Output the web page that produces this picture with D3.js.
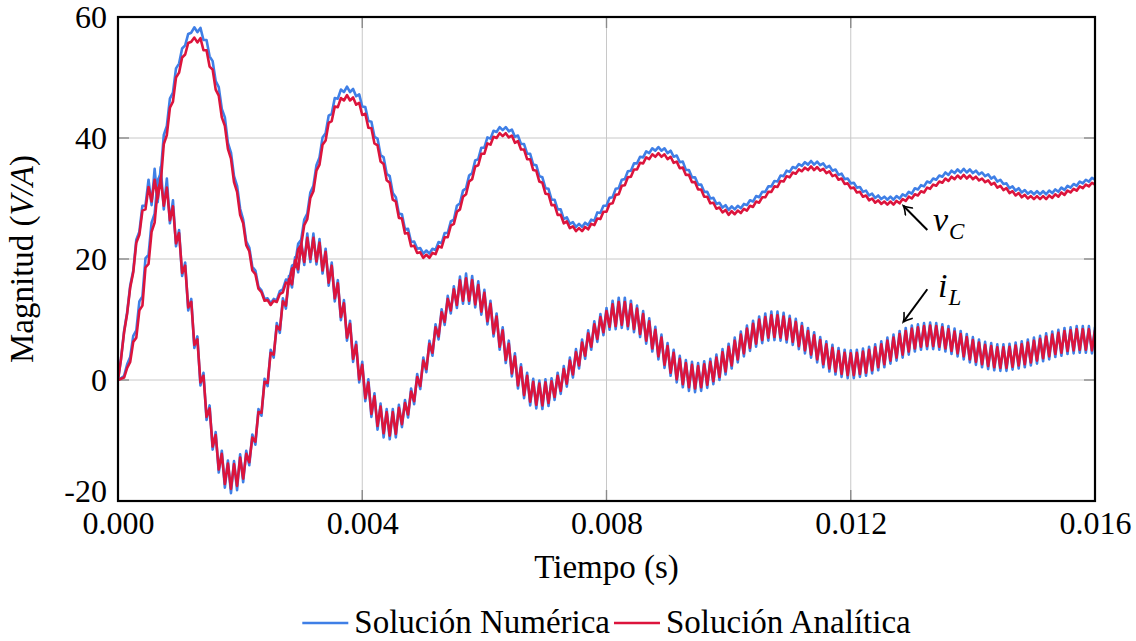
<!DOCTYPE html>
<html><head><meta charset="utf-8">
<script src="https://cdn.jsdelivr.net/npm/d3@7"></script>
<style>
body{margin:0;background:#fff}
svg{display:block}
</style></head>
<body><svg id="chart" width="1136" height="641"></svg>
<script>
// ---- data ----
const dt = 0.00005; // sample spacing in seconds (values below are at k*dt)
const xTicks = [0, 0.004, 0.008, 0.012, 0.016];
const yTicks = [-20, 0, 20, 40, 60];
const legendLabels = ["Solución Numérica", "Solución Analítica"];
const seriesColors = ["#3f7fe6", "#dc143c"];

const vC_numerica = [0,0.3,0.7,2.6,3.8,7.3,8.2,13.0,13.8,20.1,20.7,26.0,27.5,33.0,34.1,40.5,42.0,46.5,47.5,51.5,52.3,54.8,55.3,57.2,57.4,58.3,
57.5,58.2,56.2,56.2,53.5,52.7,49.4,48.4,44.8,43.4,39.2,37.6,33.7,32.1,28.3,26.5,22.9,21.9,18.7,18.1,15.4,14.8,13.4,13.5,12.7,
13.4,13.2,14.7,15.0,16.6,16.4,18.9,19.2,22.5,23.2,26.5,27.5,31.0,32.1,35.5,36.8,40.1,40.8,43.7,44.0,46.6,46.5,48.0,47.6,48.5,
47.6,48.1,46.9,47.2,45.2,45.1,42.8,42.7,40.2,39.9,37.2,36.8,34.1,33.7,30.9,30.2,27.5,27.4,24.9,25.0,22.8,22.9,21.7,21.8,20.9,21.4,
20.9,21.7,21.5,22.8,22.6,24.3,24.3,26.2,26.5,28.8,29.2,31.3,31.7,33.8,34.2,36.3,36.5,38.4,38.4,40.1,39.9,41.2,41.0,41.8,41.3,
41.8,41.1,41.4,40.2,40.4,39.0,39.0,37.4,37.4,35.6,35.5,33.7,33.5,31.7,31.6,29.8,29.8,28.2,28.2,26.6,26.9,25.8,26.1,25.3,25.8,
25.3,26.0,25.6,26.5,26.3,27.7,27.6,28.8,28.8,30.1,30.2,31.6,31.7,33.1,33.2,34.5,34.6,35.8,35.8,36.9,36.8,37.8,37.5,38.3,37.9,38.5,
37.9,38.3,37.5,37.9,36.9,37.1,36.0,36.1,34.7,34.7,33.5,33.5,32.3,32.3,31.1,31.1,30.0,30.1,29.1,29.3,28.5,28.9,28.1,28.7,
28.2,28.8,28.4,29.1,28.9,29.7,29.5,30.4,30.2,31.1,31.1,32.0,32.0,32.9,32.8,33.8,33.7,34.6,34.4,35.2,35.0,35.7,35.4,36.0,35.6,36.2,
35.6,36.1,35.5,35.8,35.1,35.4,34.6,34.8,33.9,34.1,33.2,33.3,32.5,32.6,31.8,31.9,31.1,31.3,30.5,30.8,30.1,30.5,29.9,30.3,29.8,
30.3,29.8,30.4,30.0,30.7,30.4,31.1,30.8,31.7,31.5,32.2,32.0,32.8,32.6,33.3,33.1,33.8,33.6,34.3,33.9,34.6,34.2,34.8,34.3,34.9,
34.3,34.8,34.2,34.6,34.0,34.3,33.7,34.0,33.3,33.6,32.8,33.1,32.4,32.5,31.7,32.0,31.3,31.7,31.0,31.4,30.8,31.2,30.7,31.2,
30.7,31.2,30.7,31.3,30.9,31.5,31.1,31.8,31.4,32.1,31.8,32.4,32.1,32.8,32.5,33.1,32.8,33.4,33.1];

const vC_analitica = [0,0.2,0.4,2.0,3.0,6.3,7.0,11.5,12.3,18.6,19.2,24.5,26.0,31.5,32.6,39.0,40.5,45.0,46.0,50.0,50.8,53.3,53.8,55.7,55.9,56.6,
55.8,56.5,54.5,54.5,51.8,51.3,48.0,47.0,43.4,42.0,38.2,36.6,32.7,31.1,27.3,25.9,22.3,21.3,18.1,17.5,15.1,14.5,13.1,13.2,12.4,
13.1,12.9,14.2,14.5,16.1,15.9,18.4,18.7,21.6,22.3,25.6,26.6,30.1,31.2,34.6,35.6,38.9,39.6,42.5,42.8,45.2,45.1,46.6,46.2,47.1,
46.2,46.7,45.5,45.8,43.8,44.0,41.7,41.6,39.1,38.8,36.1,35.7,33.0,32.6,29.8,29.5,26.8,26.7,24.2,24.3,22.1,22.2,21.0,21.1,20.2,20.7,
20.2,21.0,20.8,22.1,21.9,23.6,23.6,25.5,25.8,27.8,28.2,30.3,30.7,32.8,33.2,35.3,35.5,37.4,37.4,39.1,38.9,40.2,40.0,40.8,40.3,
40.8,40.1,40.4,39.2,39.5,38.1,38.1,36.5,36.5,34.7,34.6,32.8,32.6,30.8,30.7,28.9,28.9,27.3,27.3,25.9,26.2,25.1,25.4,24.6,25.1,
24.6,25.3,24.9,25.8,25.6,26.7,26.6,27.8,27.8,29.1,29.2,30.6,30.7,32.1,32.2,33.5,33.6,34.8,34.8,35.9,35.8,36.8,36.5,37.3,36.9,37.5,
36.9,37.3,36.5,36.9,35.9,36.1,35.0,35.1,33.9,33.9,32.7,32.7,31.5,31.5,30.3,30.3,29.2,29.3,28.3,28.5,27.7,28.1,27.3,27.9,
27.4,28.0,27.6,28.3,28.0,28.8,28.6,29.5,29.3,30.2,30.2,31.1,31.1,32.0,31.9,32.9,32.8,33.7,33.5,34.3,34.1,34.8,34.5,35.1,34.7,35.3,
34.7,35.2,34.6,34.9,34.2,34.5,33.7,33.9,33.1,33.3,32.4,32.5,31.7,31.8,31.0,31.1,30.3,30.5,29.7,30.0,29.3,29.7,29.1,29.5,29.0,
29.5,29.0,29.6,29.2,29.9,29.6,30.3,30.0,30.7,30.5,31.2,31.0,31.8,31.6,32.3,32.1,32.8,32.6,33.3,32.9,33.6,33.2,33.8,33.3,33.9,
33.3,33.8,33.2,33.6,33.0,33.3,32.7,33.0,32.3,32.6,31.8,32.1,31.4,31.7,30.9,31.2,30.5,30.9,30.2,30.6,30.0,30.4,29.9,30.4,
29.9,30.4,29.9,30.5,30.1,30.7,30.3,31.0,30.6,31.3,31.0,31.6,31.3,32.0,31.7,32.3,32.0,32.6,32.3];

const iL_numerica = [0,3.6,8.1,11.2,15.6,18.1,23.2,24.5,28.8,28.8,33.1,28.9,34.9,29.4,
35.2,28.2,33.3,25.9,29.7,22.1,24.8,17.2,19.4,11.5,13.4,5.3,7.2,-0.9,1.2,-6.6,-4.2,-11.5,-8.6,-15.3,-11.7,-17.8,-13.3,-18.7,
-13.4,-18.2,-12.3,-16.9,-11.7,-14.1,-9.0,-10.7,-4.8,-5.9,0.2,-1.0,5.0,3.7,9.4,7.8,13.5,11.8,17.2,15.3,20.3,17.8,23.0,19.0,24.2,19.5,
24.2,19.1,23.3,17.6,21.7,15.6,19.4,13.0,16.5,9.9,13.2,6.5,9.8,3.0,6.3,-0.4,3.0,-3.5,0.1,-6.1,-2.2,-8.2,-3.9,-9.5,-4.8,-9.8,
-4.8,-9.5,-4.1,-7.8,-3.3,-6.2,-1.4,-4.0,1.0,-1.5,3.7,1.3,6.5,4.0,9.2,6.7,11.7,9.1,13.9,11.0,15.5,11.9,17.1,12.6,17.6,
12.6,17.2,12.0,16.3,10.8,14.9,9.2,13.1,7.2,11.0,5.0,8.7,2.8,6.5,0.6,4.4,-1.4,2.6,-3.0,1.2,-4.2,0.2,-4.7,-0.1,
-4.8,0.1,-4.3,0.3,-3.3,1.2,-2.3,2.3,-1.1,3.7,0.4,5.1,1.9,6.7,3.5,8.2,5.0,9.7,6.3,10.9,7.4,11.9,8.3,13.1,8.4,13.6,8.6,
13.6,8.4,13.1,7.9,12.3,7.1,11.4,6.0,10.2,4.7,8.8,3.4,7.5,2.0,6.1,0.7,5.0,-0.4,4.0,-1.2,3.3,-1.8,3.0,-2.0,
2.8,-1.8,3.1,-1.3,3.5,-0.7,4.2,0.0,5.1,0.9,6.0,1.9,7.0,2.9,8.0,3.9,9.0,4.8,9.8,5.5,10.5,6.1,11.0,6.5,11.3,6.6,
11.3,6.5,11.1,6.2,10.6,5.8,10.1,5.1,9.4,4.4,8.6,3.7,7.9,2.9,7.1,2.1,6.4,1.4,5.8,0.9,5.3,0.5,5.0,0.3,4.9,
0.3,5.0,0.5,5.2,0.7,5.5,1.1,5.9,1.6,6.4,2.1,7.0,2.7,7.5,3.2,8.1,3.7,8.6,4.2,9.0,4.7,9.2,5.0,9.4,5.1,9.5,
5.1,9.4,5.0,9.2,4.7,8.9,4.3,8.5,3.9,8.1,3.4,7.6,2.9,7.1,2.5,6.7,2.1,6.3,1.8,6.1,1.6,5.9,1.5,
5.9,1.5,6.0,1.7,6.2,1.9,6.4,2.1,6.7,2.4,7.0,2.7,7.3,3.1,7.7,3.4,8.0,3.8,8.3,4.0,8.6,4.3,8.7,4.4,8.9,4.5,8.9,4.5,8.9,4.4,8.7];

const iL_analitica = [0,3.5,7.9,11.0,15.3,17.8,22.7,24.0,28.0,28.2,31.9,29.5,33.1,30.0,
33.4,28.8,31.8,26.4,28.7,22.6,24.3,17.7,18.9,12.0,12.9,5.8,6.7,-0.4,0.7,-6.1,-4.7,-11.0,-9.1,-14.8,-12.2,-17.2,-13.8,-18.0,
-13.9,-17.5,-12.8,-16.3,-12.2,-13.6,-9.5,-10.2,-5.3,-5.4,-0.3,-0.5,4.5,4.2,8.9,8.3,13.0,12.3,16.7,15.8,19.8,18.3,22.4,19.5,23.5,20.0,
23.5,19.6,22.7,18.1,21.2,16.1,18.9,13.5,16.0,10.4,12.7,7.0,9.3,3.5,5.8,0.1,2.5,-3.0,-0.4,-5.6,-2.7,-7.6,-4.4,-8.8,-5.3,-9.2,
-5.3,-8.9,-4.6,-7.3,-3.8,-5.7,-1.9,-3.5,0.5,-1.0,3.2,1.8,6.0,4.5,8.7,7.2,11.2,9.6,13.4,11.5,15.0,12.4,16.5,13.1,16.8,
13.1,16.5,12.5,15.7,11.3,14.4,9.7,12.6,7.7,10.5,5.5,8.2,3.3,6.0,1.1,3.9,-0.9,2.1,-2.5,0.7,-3.6,-0.3,-4.1,-0.6,
-4.2,-0.4,-3.8,-0.2,-2.8,0.7,-1.8,1.8,-0.6,3.2,0.9,4.6,2.4,6.2,4.0,7.7,5.5,9.2,6.8,10.4,7.9,11.4,8.8,12.5,8.9,12.9,9.1,
12.9,8.9,12.5,8.4,11.8,7.6,10.9,6.5,9.7,5.2,8.3,3.9,7.0,2.5,5.6,1.2,4.5,0.1,3.5,-0.7,2.8,-1.2,2.5,-1.4,
2.3,-1.2,2.6,-0.8,3.0,-0.2,3.7,0.5,4.6,1.4,5.5,2.4,6.5,3.4,7.5,4.4,8.5,5.3,9.3,6.0,10.0,6.6,10.4,7.0,10.7,7.1,
10.7,7.0,10.5,6.7,10.1,6.3,9.6,5.6,8.9,4.9,8.1,4.2,7.4,3.4,6.6,2.6,5.9,1.9,5.3,1.4,4.8,1.0,4.5,0.8,4.4,
0.8,4.5,1.0,4.7,1.2,5.0,1.6,5.4,2.1,5.9,2.6,6.5,3.2,7.0,3.7,7.6,4.2,8.1,4.7,8.5,5.2,8.7,5.5,8.9,5.6,9.0,
5.6,8.9,5.5,8.7,5.2,8.4,4.8,8.0,4.4,7.6,3.9,7.1,3.4,6.6,3.0,6.2,2.6,5.8,2.3,5.6,2.1,5.4,2.0,
5.4,2.0,5.5,2.2,5.7,2.4,5.9,2.6,6.2,2.9,6.5,3.2,6.8,3.6,7.2,3.9,7.5,4.3,7.8,4.5,8.1,4.8,8.2,4.9,8.4,5.0,8.4,5.0,8.4,4.9,8.2];

// annotation anchors in data units [t, value]
const annotations = [
  {label:"v", sub:"C", text:[0.013347, 24.6], tail:[0.013254, 24.8], tip:[0.012861, 28.8]},
  {label:"i", sub:"L", text:[0.013430, 13.7], tail:[0.013254, 15.0], tip:[0.012861, 9.6]}
];

// ---- drawing ----
const FONT = "Liberation Serif";
const M = {l:118, r:1095, t:17, b:501};
const svg = d3.select("#chart");
const x = d3.scaleLinear().domain([xTicks[0], xTicks[xTicks.length-1]]).range([M.l, M.r]);
const y = d3.scaleLinear().domain([yTicks[0], yTicks[yTicks.length-1]]).range([M.b, M.t]);

const defs = svg.append("defs");
defs.append("clipPath").attr("id","plotclip").append("rect")
  .attr("x",M.l).attr("y",M.t).attr("width",M.r-M.l).attr("height",M.b-M.t);
defs.append("marker").attr("id","ah").attr("viewBox","-10 -6 12 12")
  .attr("refX",0).attr("refY",0).attr("markerWidth",12).attr("markerHeight",12)
  .attr("markerUnits","userSpaceOnUse").attr("orient","auto")
  .append("path").attr("d","M-8,-5 Q-3,-1 0,0 Q-3,1 -8,5")
  .attr("fill","none").attr("stroke","#000").attr("stroke-width",1.6).attr("stroke-linecap","round");

// grid
const grid = svg.append("g");
grid.selectAll("line.gx").data(xTicks.slice(1,-1)).join("line")
  .attr("x1",d=>x(d)).attr("x2",d=>x(d)).attr("y1",M.t).attr("y2",M.b)
  .attr("stroke","#c8c8c8").attr("stroke-width",1);
grid.selectAll("line.gy").data(yTicks.slice(1,-1)).join("line")
  .attr("y1",d=>y(d)).attr("y2",d=>y(d)).attr("x1",M.l).attr("x2",M.r)
  .attr("stroke","#c8c8c8").attr("stroke-width",1);

// inner tick marks
const tk = svg.append("g").attr("stroke","#8a8a8a").attr("stroke-width",1.4);
yTicks.slice(1,-1).forEach(v=>{
  tk.append("line").attr("x1",M.l).attr("x2",M.l+11).attr("y1",y(v)).attr("y2",y(v));
  tk.append("line").attr("x1",M.r-11).attr("x2",M.r).attr("y1",y(v)).attr("y2",y(v));
});
xTicks.slice(1,-1).forEach(v=>{
  tk.append("line").attr("y1",M.b).attr("y2",M.b-11).attr("x1",x(v)).attr("x2",x(v));
  tk.append("line").attr("y1",M.t).attr("y2",M.t+11).attr("x1",x(v)).attr("x2",x(v));
});

// series
const line = d3.line().x((d,i)=>x(i*dt)).y(d=>y(d));
const plot = svg.append("g").attr("clip-path","url(#plotclip)");
const series = [
  {data:vC_numerica, color:seriesColors[0]},
  {data:iL_numerica, color:seriesColors[0]},
  {data:vC_analitica, color:seriesColors[1]},
  {data:iL_analitica, color:seriesColors[1]}
];
plot.selectAll("path").data(series).join("path")
  .attr("d",d=>line(d.data)).attr("fill","none")
  .attr("stroke",d=>d.color).attr("stroke-width",2.6)
  .attr("stroke-linejoin","round").attr("stroke-linecap","round");

// frame
svg.append("rect").attr("x",M.l).attr("y",M.t).attr("width",M.r-M.l).attr("height",M.b-M.t)
  .attr("fill","none").attr("stroke","#000").attr("stroke-width",2.2);

// axes
const ax = svg.append("g").attr("transform",`translate(0,${M.b})`)
  .call(d3.axisBottom(x).tickValues(xTicks).tickFormat(d3.format(".3f")).tickSize(0).tickPadding(10));
const ay = svg.append("g").attr("transform",`translate(${M.l},0)`)
  .call(d3.axisLeft(y).tickValues(yTicks).tickFormat(d=>String(d)).tickSize(0).tickPadding(11));
[ax,ay].forEach(g=>{
  g.attr("font-family",FONT).attr("font-size",32);
  g.select(".domain").remove();
  g.selectAll("text").attr("fill","#000");
});
// lowest y label sits a little higher so it does not collide with the first x label
ay.selectAll(".tick").filter(d=>d===yTicks[0]).select("text").attr("dy","0.02em");

// axis titles
svg.append("text").attr("x",(M.l+M.r)/2).attr("y",578).attr("text-anchor","middle")
  .attr("font-size",33).text("Tiempo (s)");
const yt = svg.append("text").attr("transform",`translate(33,${(M.t+M.b)/2}) rotate(-90)`)
  .attr("text-anchor","middle").attr("font-size",33);
yt.append("tspan").text("Magnitud (");
yt.append("tspan").attr("font-style","italic").text("V/A");
yt.append("tspan").text(")");

// annotations
annotations.forEach(a=>{
  svg.append("line").attr("x1",x(a.tail[0])).attr("y1",y(a.tail[1]))
    .attr("x2",x(a.tip[0])).attr("y2",y(a.tip[1]))
    .attr("stroke","#000").attr("stroke-width",2).attr("marker-end","url(#ah)");
  const t = svg.append("text").attr("x",x(a.text[0])).attr("y",y(a.text[1]))
    .attr("font-size",34).attr("font-style","italic");
  t.append("tspan").text(a.label);
  t.append("tspan").attr("font-size",23).attr("dy",8).attr("dx",1).text(a.sub);
});

// legend
const lg = svg.append("g").attr("transform","translate(0,623)");
const items = [];
legendLabels.forEach((lab,i)=>{
  const g = lg.append("g");
  g.append("line").attr("x1",0).attr("x2",46).attr("y1",0).attr("y2",0)
    .attr("stroke",seriesColors[i]).attr("stroke-width",2.6);
  const tx = g.append("text").attr("x",52).attr("y",10).attr("font-size",33)
    .attr("font-family",FONT).text(lab);
  const w = 52 + tx.node().getComputedTextLength();
  items.push({g,w});
});
const gap = 4;
const total = items.reduce((s,it)=>s+it.w,0) + gap*(items.length-1);
let start = (M.l+M.r)/2 - total/2;
items.forEach(it=>{ it.g.attr("transform",`translate(${start},0)`); start += it.w + gap; });

// every text in the serif face, black
svg.selectAll("text").attr("font-family",FONT).attr("fill","#000");
</script>
</body></html>
